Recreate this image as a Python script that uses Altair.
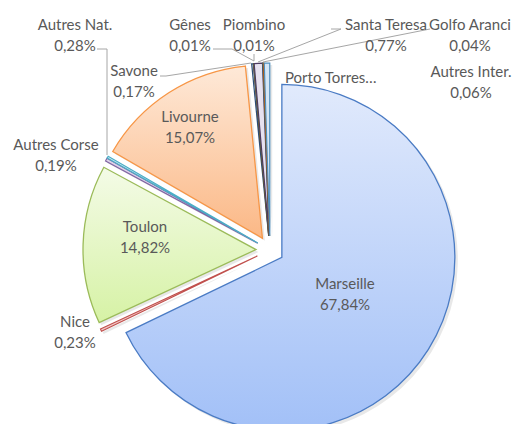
import math
import altair as alt
import pandas as pd

# ---- data ----
categories = ["Marseille", "Nice", "Toulon", "Autres Nat.", "Autres Corse", "Livourne",
              "Savone", "Gênes", "Piombino", "Santa Teresa", "Golfo Aranci",
              "Autres Inter.", "Porto Torres"]
values = [67.84, 0.23, 14.82, 0.28, 0.19, 15.07, 0.17, 0.01, 0.01, 0.77, 0.04, 0.06, 0.51]
value_labels = ["67,84%", "0,23%", "14,82%", "0,28%", "0,19%", "15,07%", "0,17%",
                "0,01%", "0,01%", "0,77%", "0,04%", "0,06%", ""]
name_labels = ["Marseille", "Nice", "Toulon", "Autres Nat.", "Autres Corse", "Livourne",
               "Savone", "Gênes", "Piombino", "Santa Teresa", "Golfo Aranci",
               "Autres Inter.", "Porto Torres…"]

# ---- styling / layout ----
border_colors = ["#4A7BC4", "#C0504D", "#9BBB59", "#8064A2", "#4BACC6", "#F79646",
                 "#2C4D75", "#772C2A", "#5F7530", "#4D3B62", "#276A7C", "#B65708", "#4F8FBF"]
fill_colors = ["#C3D6F9", "#F2C9C8", "#E3F5C4", "#DCD3EA", "#D2EEF5", "#FDD3B2",
               "#C9D6E8", "#E6C9C8", "#DCE6C7", "#E6E1EF", "#C9E3EA", "#F1D7C3", "#D6E6F5"]

W, H = 507, 416
CX, CY = 262, 242
R = 173
EXPLODE = 14
FS = 15

# label anchor positions (chart pixels) : name line, value line
label_pos = {
    "Marseille": (337, 276, "center"),
    "Nice": (67, 314, "center"),
    "Toulon": (137, 219, "center"),
    "Autres Nat.": (67, 17, "center"),
    "Autres Corse": (48, 137, "center"),
    "Livourne": (182, 109, "center"),
    "Savone": (126, 63, "center"),
    "Gênes": (182, 17, "center"),
    "Piombino": (246, 17, "center"),
    "Santa Teresa": (378, 17, "center"),
    "Golfo Aranci": (462, 17, "center"),
    "Autres Inter.": (463, 64, "center"),
    "Porto Torres": (277, 70, "left"),
}
LINE_GAP = 21

# leader lines (chart pixels)
leaders = {
    "Autres Nat.": [(89, 41), (99, 41), (99, 147)],
    "Gênes": [(205, 41), (224, 41), (246, 53)],
    "Piombino": [(246, 46), (246, 53)],
    "Santa Teresa": [(323, 21), (333, 21), (250, 54)],
    "Golfo Aranci": [(422, 21), (255, 54)],
    "Savone": [(152, 68), (158, 68), (243, 55)],
}

df = pd.DataFrame({"cat": categories, "val": values, "idx": list(range(len(categories)))})

base = (
    alt.Chart(df)
    .transform_window(cum="sum(val)", sort=[{"field": "idx"}], frame=[None, 0])
    .transform_joinaggregate(total="sum(val)")
    .transform_calculate(
        f0="(datum.cum - datum.val) / datum.total",
        f1="datum.cum / datum.total",
    )
    .transform_calculate(mid="(datum.f0 + datum.f1) * PI")
    .transform_calculate(
        px=f"{CX} + {EXPLODE} * sin(datum.mid)",
        py=f"{CY} - {EXPLODE} * cos(datum.mid)",
    )
    .transform_calculate(sx="datum.px + 2.5", sy="datum.py + 2.5")
)

theta_enc = dict(
    theta=alt.Theta("f0:Q", scale=alt.Scale(domain=[0, 1], range=[0, 2 * math.pi])),
    theta2="f1:Q",
)
enc = dict(
    x=alt.X("px:Q", scale=None, axis=None),
    y=alt.Y("py:Q", scale=None, axis=None),
    **theta_enc,
)

def grad(c0, c1):
    return alt.LinearGradient(
        gradient="linear",
        stops=[alt.GradientStop(color=c0, offset=0), alt.GradientStop(color=c1, offset=1)],
        x1=0, x2=0, y1=0, y2=1,
    )

shadow = base.mark_arc(outerRadius=R + 0.5, fill="#000000", fillOpacity=0.09, strokeWidth=0).encode(
    x=alt.X("sx:Q", scale=None, axis=None),
    y=alt.Y("sy:Q", scale=None, axis=None),
    **theta_enc,
)

small_cats = [c for c in categories if c not in ("Marseille", "Toulon", "Livourne")]

small = base.transform_filter(alt.FieldOneOfPredicate(field="cat", oneOf=small_cats)).mark_arc(
    outerRadius=R, strokeWidth=1.2
).encode(
    fill=alt.Fill("cat:N", scale=alt.Scale(domain=categories, range=fill_colors), legend=None),
    stroke=alt.Stroke("cat:N", scale=alt.Scale(domain=categories, range=border_colors), legend=None),
    **enc,
)

def big(cat, c0, c1, border):
    return base.transform_filter(alt.datum.cat == cat).mark_arc(
        outerRadius=R, fill=grad(c0, c1), stroke=border, strokeWidth=1.3
    ).encode(**enc)

marseille = big("Marseille", "#E1EAFC", "#A2C0F7", border_colors[0])
toulon = big("Toulon", "#F4FBE7", "#D6F2A5", border_colors[2])
livourne = big("Livourne", "#FEE9D8", "#FBB886", border_colors[5])

# text labels
lab_rows = []
for i, c in enumerate(categories):
    x, y, a = label_pos[c]
    lab_rows.append({"t": name_labels[i], "x": x, "y": y, "a": a})
    if value_labels[i]:
        lab_rows.append({"t": value_labels[i], "x": x, "y": y + LINE_GAP, "a": a})
lab_df = pd.DataFrame(lab_rows)

text_c = alt.Chart(lab_df[lab_df.a == "center"]).mark_text(
    font="Lato", fontSize=FS, color="#595959", align="center", baseline="middle"
).encode(x=alt.X("x:Q", scale=None), y=alt.Y("y:Q", scale=None), text="t:N")
text_l = alt.Chart(lab_df[lab_df.a == "left"]).mark_text(
    font="Lato", fontSize=FS, color="#595959", align="left", baseline="middle"
).encode(x=alt.X("x:Q", scale=None), y=alt.Y("y:Q", scale=None), text="t:N")

lrows = []
for k, pts in leaders.items():
    for j, (x, y) in enumerate(pts):
        lrows.append({"k": k, "o": j, "x": x, "y": y})
lead = alt.Chart(pd.DataFrame(lrows)).mark_line(color="#A6A6A6", strokeWidth=1).encode(
    x=alt.X("x:Q", scale=None), y=alt.Y("y:Q", scale=None), detail="k:N", order="o:Q"
)

chart = alt.layer(shadow, marseille, toulon, livourne, small, lead, text_c, text_l).properties(
    width=W, height=H, autosize=alt.AutoSizeParams(type="none"), padding=0
).configure_view(stroke=None)

chart.save("out.html", embed_options={"renderer": "svg", "actions": False})
